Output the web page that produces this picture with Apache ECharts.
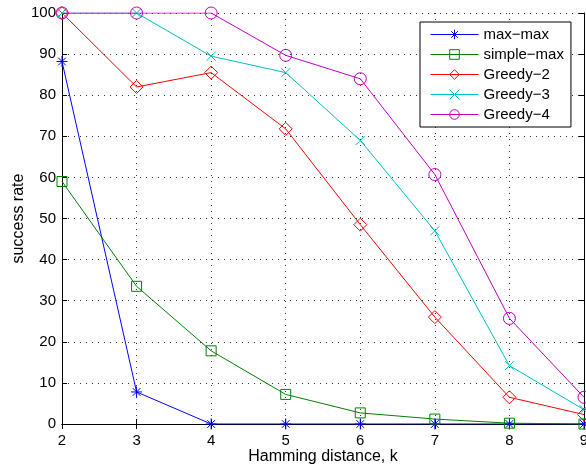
<!DOCTYPE html>
<html>
<head>
<meta charset="utf-8">
<script src="https://cdn.jsdelivr.net/npm/echarts@6/dist/echarts.min.js"></script>
<style>
  html, body { margin: 0; padding: 0; background: #fff; }
  #main { width: 586px; height: 465px; }
</style>
</head>
<body>
<div id="main"></div>
<script>
var myChart = echarts.init(document.getElementById('main'));

// hamming distance k
var kValues = [2, 3, 4, 5, 6, 7, 8, 9];

var maxMax    = [88.2, 7.8, 0, 0, 0, 0, 0, 0];
var simpleMax = [59, 33.5, 17.8, 7.2, 2.7, 1.2, 0.2, 0];
var greedy2   = [100, 82, 85.5, 71.8, 48.5, 26, 6.5, 2.3];
var greedy3   = [100, 100, 89.5, 85.5, 69, 47, 14.2, 3.5];
var greedy4   = [100, 100, 100, 89.7, 84, 60.7, 25.7, 6.5];

var seriesNames = ['max\u2212max', 'simple\u2212max', 'Greedy\u22122', 'Greedy\u22123', 'Greedy\u22124'];

var FONT = 'Liberation Sans, Arial, sans-serif';

var asterisk = 'path://M0,-10L0,10M-10,0L10,0M-7,-7L7,7M-7,7L7,-7';
var cross = 'path://M-7,-7L7,7M-7,7L7,-7';

function pairs(vals) {
    return vals.map(function (v, i) { return [kValues[i], v]; });
}

function mkSeries(name, vals, color, symbol, size) {
    return {
        name: name,
        type: 'line',
        data: pairs(vals),
        symbol: symbol,
        symbolSize: size,
        showAllSymbol: true,
        lineStyle: { color: color, width: 1 },
        itemStyle: { color: 'none', borderColor: color, borderWidth: 1 },
        emphasis: { disabled: true },
        animation: false
    };
}

var option = {
    backgroundColor: '#fff',
    animation: false,
    grid: { left: 62, right: 2, top: 13, bottom: 41, outerBoundsMode: 'none', containLabel: false },
    legend: {
        orient: 'vertical',
        left: 420,
        top: 22,
        padding: [5, 7, 5, 10],
        itemWidth: 48,
        itemHeight: 12,
        itemGap: 5,
        backgroundColor: '#fff',
        borderColor: '#000',
        borderWidth: 1,
        lineStyle: { width: 1 },
        itemStyle: { borderWidth: 1 },
        textStyle: { fontFamily: FONT, fontSize: 15, color: '#000' },
        data: seriesNames
    },
    xAxis: [{
        type: 'value',
        min: 2, max: 9, interval: 1,
        name: 'Hamming distance, k',
        nameLocation: 'middle',
        nameGap: 25,
        nameMoveOverlap: false,
        nameTextStyle: { fontFamily: FONT, fontSize: 16, color: '#000' },
        axisLine: { show: true, onZero: false, lineStyle: { color: '#000', width: 1 } },
        axisTick: { show: true, inside: true, length: 5, lineStyle: { color: '#000' } },
        axisLabel: { fontFamily: FONT, fontSize: 15, color: '#000', margin: 9 },
        splitLine: { show: true, lineStyle: { color: '#333', type: [1, 5], width: 1 } }
    }, {
        type: 'value',
        position: 'top',
        min: 2, max: 9, interval: 1,
        axisLine: { show: true, lineStyle: { color: '#000', width: 1 } },
        axisTick: { show: true, inside: true, length: 5, lineStyle: { color: '#000' } },
        axisLabel: { show: false },
        splitLine: { show: false }
    }],
    yAxis: [{
        type: 'value',
        min: 0, max: 100, interval: 10,
        name: 'success rate',
        nameLocation: 'middle',
        nameGap: 35,
        nameMoveOverlap: false,
        nameTextStyle: { fontFamily: FONT, fontSize: 16, color: '#000' },
        axisLine: { show: true, onZero: false, lineStyle: { color: '#000', width: 1 } },
        axisTick: { show: true, inside: true, length: 5, lineStyle: { color: '#000' } },
        axisLabel: { fontFamily: FONT, fontSize: 15, color: '#000', margin: 6 },
        splitLine: { show: true, lineStyle: { color: '#333', type: [1, 5], width: 1 } }
    }, {
        type: 'value',
        position: 'right',
        min: 0, max: 100, interval: 10,
        axisLine: { show: true, lineStyle: { color: '#000', width: 1 } },
        axisTick: { show: true, inside: true, length: 5, lineStyle: { color: '#000' } },
        axisLabel: { show: false },
        splitLine: { show: false }
    }],
    series: [
        mkSeries(seriesNames[0], maxMax, '#0000ff', asterisk, 11),
        mkSeries(seriesNames[1], simpleMax, '#008000', 'rect', 10),
        mkSeries(seriesNames[2], greedy2, '#ff0000', 'diamond', 13),
        mkSeries(seriesNames[3], greedy3, '#00bfbf', cross, 9),
        mkSeries(seriesNames[4], greedy4, '#bf00bf', 'circle', 12)
    ]
};

myChart.setOption(option);
</script>
</body>
</html>
